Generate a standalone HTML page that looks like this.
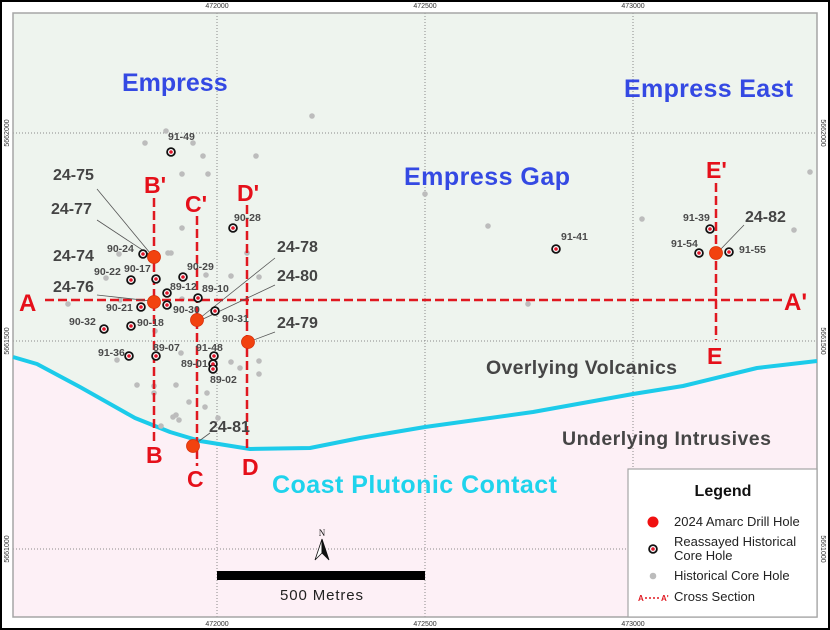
<!DOCTYPE html>
<html><head><meta charset="utf-8"><style>
html,body{margin:0;padding:0;background:#fff;}
svg{display:block;}
text{font-family:"Liberation Sans",sans-serif;}
.t{font-size:7px;fill:#333;}
.hl{font-size:10.5px;font-weight:bold;fill:#4a4a4a;}
.dl{font-size:16px;font-weight:bold;fill:#444;}
.bl{font-size:25px;font-weight:bold;fill:#3449e3;}
.rl{font-size:23px;font-weight:bold;fill:#e5101a;}
.gy{font-size:19.5px;font-weight:bold;fill:#454545;}
.lg{font-size:13px;fill:#222;}
</style></head><body>
<svg width="830" height="630" viewBox="0 0 830 630" xmlns="http://www.w3.org/2000/svg">
<rect x="0" y="0" width="830" height="630" fill="#fff"/>
<!-- map fills -->
<rect x="13" y="13" width="804" height="604" fill="#fdf0f6"/>
<polygon fill="#eef4ee" points="13,13 817,13 817,361 800,363 757,368 683,386 633,394 533,412 425,427 360,438 310,448 250,449 200,441 170,432 135,418 80,387 37,364 13,357"/>
<!-- grid -->
<g stroke="#8a8a8a" stroke-width="1" stroke-dasharray="1,2" fill="none">
<line x1="217" y1="13" x2="217" y2="617"/>
<line x1="425" y1="13" x2="425" y2="617"/>
<line x1="633" y1="13" x2="633" y2="617"/>
<line x1="13" y1="133" x2="817" y2="133"/>
<line x1="13" y1="341" x2="817" y2="341"/>
<line x1="13" y1="549" x2="817" y2="549"/>
</g>
<!-- frame -->
<rect x="13" y="13" width="804" height="604" fill="none" stroke="#a5a5a5" stroke-width="1.5"/>
<rect x="1" y="1" width="828" height="628" fill="none" stroke="#000" stroke-width="2"/>
<!-- tick labels -->
<text class="t" x="217" y="8" text-anchor="middle">472000</text>
<text class="t" x="425" y="8" text-anchor="middle">472500</text>
<text class="t" x="633" y="8" text-anchor="middle">473000</text>
<text class="t" x="217" y="626" text-anchor="middle">472000</text>
<text class="t" x="425" y="626" text-anchor="middle">472500</text>
<text class="t" x="633" y="626" text-anchor="middle">473000</text>
<text class="t" transform="translate(9,133) rotate(-90)" text-anchor="middle">5662000</text>
<text class="t" transform="translate(9,341) rotate(-90)" text-anchor="middle">5661500</text>
<text class="t" transform="translate(9,549) rotate(-90)" text-anchor="middle">5661000</text>
<text class="t" transform="translate(821,133) rotate(90)" text-anchor="middle">5662000</text>
<text class="t" transform="translate(821,341) rotate(90)" text-anchor="middle">5661500</text>
<text class="t" transform="translate(821,549) rotate(90)" text-anchor="middle">5661000</text>
<!-- cyan contact -->
<polyline fill="none" stroke="#1ccbea" stroke-width="4" stroke-linejoin="round" points="13,357 37,364 80,387 135,418 170,432 200,441 250,449 310,448 360,438 425,427 533,412 633,394 683,386 757,368 800,363 817,361"/>
<!-- gray historical dots -->
<g fill="#bcbcbc">
<circle cx="166" cy="131" r="2.8"/><circle cx="145" cy="143" r="2.8"/><circle cx="193" cy="143" r="2.8"/>
<circle cx="203" cy="156" r="2.8"/><circle cx="256" cy="156" r="2.8"/><circle cx="182" cy="174" r="2.8"/>
<circle cx="208" cy="174" r="2.8"/><circle cx="312" cy="116" r="2.8"/><circle cx="182" cy="228" r="2.8"/>
<circle cx="119" cy="254" r="2.8"/><circle cx="168" cy="253" r="2.8"/><circle cx="171" cy="253" r="2.8"/>
<circle cx="106" cy="278" r="2.8"/><circle cx="206" cy="275" r="2.8"/><circle cx="231" cy="276" r="2.8"/>
<circle cx="259" cy="277" r="2.8"/><circle cx="247" cy="253" r="2.8"/><circle cx="68" cy="304" r="2.8"/>
<circle cx="182" cy="299" r="2.8"/><circle cx="120" cy="300" r="2.8"/><circle cx="155" cy="331" r="2.8"/>
<circle cx="181" cy="353" r="2.8"/><circle cx="117" cy="360" r="2.8"/><circle cx="231" cy="362" r="2.8"/>
<circle cx="240" cy="368" r="2.8"/><circle cx="259" cy="361" r="2.8"/><circle cx="259" cy="374" r="2.8"/>
<circle cx="137" cy="385" r="2.8"/><circle cx="154" cy="386" r="2.8"/><circle cx="154" cy="393" r="2.8"/>
<circle cx="176" cy="385" r="2.8"/><circle cx="207" cy="393" r="2.8"/><circle cx="189" cy="402" r="2.8"/>
<circle cx="205" cy="407" r="2.8"/><circle cx="176" cy="415" r="2.8"/><circle cx="179" cy="420" r="2.8"/>
<circle cx="173" cy="417" r="2.8"/><circle cx="161" cy="426" r="2.8"/><circle cx="218" cy="418" r="2.8"/>
<circle cx="425" cy="194" r="2.8"/><circle cx="810" cy="172" r="2.8"/><circle cx="642" cy="219" r="2.8"/>
<circle cx="794" cy="230" r="2.8"/><circle cx="528" cy="304" r="2.8"/><circle cx="488" cy="226" r="2.8"/>
</g>
<!-- cross-section lines -->
<g stroke="#e01820" stroke-width="2.5" stroke-dasharray="9,4" fill="none">
<line x1="45" y1="300" x2="784" y2="300"/>
<line x1="154" y1="198" x2="154" y2="441"/>
<line x1="197" y1="216" x2="197" y2="466"/>
<line x1="247" y1="205" x2="247" y2="452"/>
<line x1="716" y1="183" x2="716" y2="340"/>
</g>
<text class="rl" x="19" y="311" style="font-size:24px">A</text>
<text class="rl" x="784" y="310" style="font-size:24px">A'</text>
<text class="rl" x="144" y="193">B'</text>
<text class="rl" x="146" y="463">B</text>
<text class="rl" x="185" y="212">C'</text>
<text class="rl" x="187" y="487">C</text>
<text class="rl" x="237" y="201">D'</text>
<text class="rl" x="242" y="475">D</text>
<text class="rl" x="706" y="178">E'</text>
<text class="rl" x="707" y="364">E</text>
<!-- leader lines -->
<g stroke="#555" stroke-width="0.8" fill="none">
<line x1="97" y1="189" x2="150" y2="253"/>
<line x1="97" y1="220" x2="150" y2="255"/>
<line x1="97" y1="295" x2="151" y2="301"/>
<line x1="275" y1="258" x2="200" y2="318"/>
<line x1="275" y1="285" x2="201" y2="320"/>
<line x1="275" y1="332" x2="251" y2="341"/>
<line x1="210" y1="433" x2="195" y2="444"/>
<line x1="744" y1="225" x2="719" y2="251"/>
</g>
<!-- reassayed holes -->
<g fill="#fff" stroke="#111" stroke-width="1.8">
<circle cx="143" cy="254" r="3.9"/><circle cx="156" cy="279" r="3.9"/><circle cx="131" cy="280" r="3.9"/>
<circle cx="183" cy="277" r="3.9"/><circle cx="167" cy="293" r="3.9"/><circle cx="167" cy="305" r="3.9"/>
<circle cx="198" cy="298" r="3.9"/><circle cx="141" cy="307" r="3.9"/><circle cx="215" cy="311" r="3.9"/>
<circle cx="131" cy="326" r="3.9"/><circle cx="104" cy="329" r="3.9"/><circle cx="129" cy="356" r="3.9"/>
<circle cx="156" cy="356" r="3.9"/><circle cx="214" cy="356" r="3.9"/><circle cx="213" cy="364" r="3.9"/>
<circle cx="213" cy="369" r="3.9"/><circle cx="233" cy="228" r="3.9"/><circle cx="171" cy="152" r="3.9"/>
<circle cx="556" cy="249" r="3.9"/><circle cx="710" cy="229" r="3.9"/><circle cx="699" cy="253" r="3.9"/>
<circle cx="729" cy="252" r="3.9"/>
</g>
<g fill="#e0162a">
<circle cx="143" cy="254" r="1.8"/><circle cx="156" cy="279" r="1.8"/><circle cx="131" cy="280" r="1.8"/>
<circle cx="183" cy="277" r="1.8"/><circle cx="167" cy="293" r="1.8"/><circle cx="167" cy="305" r="1.8"/>
<circle cx="198" cy="298" r="1.8"/><circle cx="141" cy="307" r="1.8"/><circle cx="215" cy="311" r="1.8"/>
<circle cx="131" cy="326" r="1.8"/><circle cx="104" cy="329" r="1.8"/><circle cx="129" cy="356" r="1.8"/>
<circle cx="156" cy="356" r="1.8"/><circle cx="214" cy="356" r="1.8"/><circle cx="213" cy="364" r="1.8"/>
<circle cx="213" cy="369" r="1.8"/><circle cx="233" cy="228" r="1.8"/><circle cx="171" cy="152" r="1.8"/>
<circle cx="556" cy="249" r="1.8"/><circle cx="710" cy="229" r="1.8"/><circle cx="699" cy="253" r="1.8"/>
<circle cx="729" cy="252" r="1.8"/>
</g>
<!-- 2024 drill holes -->
<g fill="#f2420f" stroke="#d8300a" stroke-width="0.8">
<circle cx="154" cy="257" r="6.5"/><circle cx="154" cy="302" r="6.5"/><circle cx="197" cy="320" r="6.5"/>
<circle cx="248" cy="342" r="6.5"/><circle cx="193" cy="446" r="6.5"/><circle cx="716" cy="253" r="6.5"/>
</g>
<!-- hole labels -->
<text class="hl" x="107" y="252">90-24</text>
<text class="hl" x="124" y="272">90-17</text>
<text class="hl" x="94" y="275">90-22</text>
<text class="hl" x="187" y="270">90-29</text>
<text class="hl" x="170" y="290">89-12</text>
<text class="hl" x="202" y="292">89-10</text>
<text class="hl" x="106" y="311">90-21</text>
<text class="hl" x="173" y="313">90-30</text>
<text class="hl" x="222" y="322">90-31</text>
<text class="hl" x="137" y="326">90-18</text>
<text class="hl" x="69" y="325">90-32</text>
<text class="hl" x="98" y="356">91-36</text>
<text class="hl" x="153" y="351">89-07</text>
<text class="hl" x="196" y="351">91-48</text>
<text class="hl" x="181" y="367">89-01</text>
<text class="hl" x="210" y="383">89-02</text>
<text class="hl" x="234" y="221">90-28</text>
<text class="hl" x="168" y="140">91-49</text>
<text class="hl" x="561" y="240">91-41</text>
<text class="hl" x="683" y="221">91-39</text>
<text class="hl" x="671" y="247">91-54</text>
<text class="hl" x="739" y="253">91-55</text>
<!-- drill labels -->
<text class="dl" x="53" y="180">24-75</text>
<text class="dl" x="51" y="214">24-77</text>
<text class="dl" x="53" y="261">24-74</text>
<text class="dl" x="53" y="292">24-76</text>
<text class="dl" x="277" y="252">24-78</text>
<text class="dl" x="277" y="281">24-80</text>
<text class="dl" x="277" y="328">24-79</text>
<text class="dl" x="209" y="432">24-81</text>
<text class="dl" x="745" y="222">24-82</text>
<!-- area labels -->
<text class="bl" x="122" y="91">Empress</text>
<text class="bl" x="404" y="185" textLength="166">Empress Gap</text>
<text class="bl" x="624" y="97" textLength="169">Empress East</text>
<text class="gy" x="486" y="374" textLength="191">Overlying Volcanics</text>
<text class="gy" x="562" y="445" textLength="209">Underlying Intrusives</text>
<text class="bl" x="272" y="493" style="fill:#1fd3ec" textLength="285">Coast Plutonic Contact</text>
<!-- north arrow & scale -->
<text x="322" y="536" text-anchor="middle" style="font-family:'Liberation Serif',serif;font-size:9px;fill:#111">N</text>
<polygon points="322,539 315,560 322,553" fill="#fff" stroke="#111" stroke-width="0.8"/>
<polygon points="322,539 329,560 322,553" fill="#111" stroke="#111" stroke-width="0.8"/>
<rect x="217" y="571" width="208" height="9" fill="#000"/>
<text x="280" y="600" style="font-size:15px;fill:#222" textLength="83">500 Metres</text>
<!-- legend -->
<rect x="628" y="469" width="189" height="148" fill="#fff" stroke="#a5a5a5" stroke-width="1.2"/>
<text x="723" y="496" text-anchor="middle" style="font-size:16px;font-weight:bold;fill:#111">Legend</text>
<circle cx="653" cy="522" r="5.5" fill="#f01010"/>
<text class="lg" x="674" y="526">2024 Amarc Drill Hole</text>
<circle cx="653" cy="549" r="3.9" fill="#fff" stroke="#111" stroke-width="1.8"/>
<circle cx="653" cy="549" r="1.8" fill="#e0162a"/>
<text class="lg" x="674" y="546">Reassayed Historical</text>
<text class="lg" x="674" y="560">Core Hole</text>
<circle cx="653" cy="576" r="3.3" fill="#bcbcbc"/>
<text class="lg" x="674" y="580">Historical Core Hole</text>
<text x="638" y="601" style="font-size:8px;font-weight:bold;fill:#e01820">A</text>
<line x1="645" y1="598" x2="660" y2="598" stroke="#e01820" stroke-width="1.5" stroke-dasharray="2,2"/>
<text x="661" y="601" style="font-size:8px;font-weight:bold;fill:#e01820">A'</text>
<text class="lg" x="674" y="601">Cross Section</text>
</svg>
</body></html>
